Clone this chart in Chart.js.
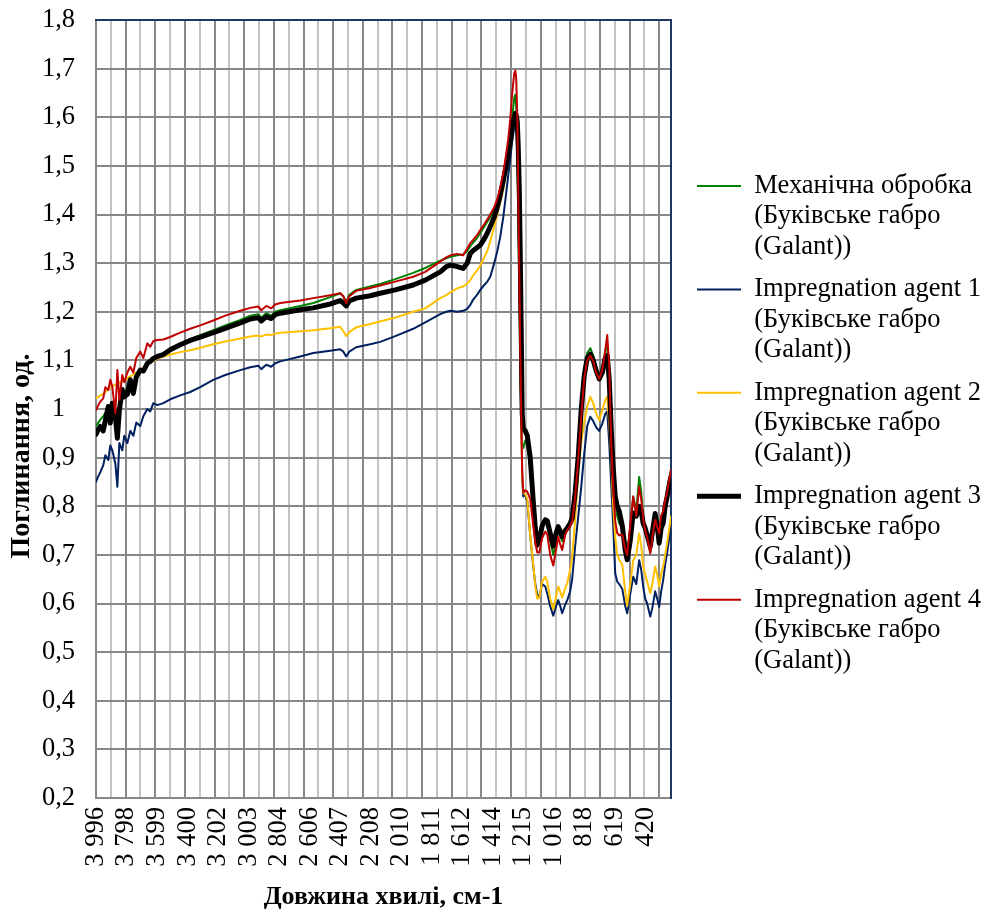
<!DOCTYPE html>
<html>
<head>
<meta charset="utf-8">
<script src="https://cdn.jsdelivr.net/npm/chart.js@4.4.1/dist/chart.umd.min.js"></script>
<style>
  html, body { margin: 0; padding: 0; background: #ffffff; }
  #wrap { width: 984px; height: 912px; }
</style>
</head>
<body>
<div id="wrap"><canvas id="chart" width="984" height="912"></canvas></div>
<script>
// ---- data ----
const wavenumbers = [3996,3981,3968,3949,3935,3916,3903,3890,3870,3857,3844,3825,3812,3792,3773,3753,3734,3708,3688,3662,3643,3623,3597,3558,3513,3448,3383,3318,3233,3155,3057,2992,2940,2921,2888,2856,2830,2797,2667,2582,2472,2407,2387,2368,2348,2303,2212,2147,2049,1932,1854,1756,1717,1691,1646,1607,1581,1561,1542,1516,1496,1470,1450,1431,1405,1385,1366,1346,1327,1314,1301,1288,1275,1268,1262,1255,1249,1242,1236,1229,1223,1216,1203,1190,1171,1151,1138,1125,1112,1093,1073,1060,1041,1021,1002,989,976,963,943,930,911,898,878,858,839,819,800,780,761,741,722,702,683,670,657,644,631,618,605,592,572,553,540,520,501,481,462,449,436,423,410,390,377,358,345,332,319,306,293,280,266,255];

const mechanical = [0.965,0.972,0.978,0.985,0.992,1.000,0.985,1.010,1.000,0.960,1.015,1.040,1.030,1.045,1.058,1.045,1.068,1.078,1.080,1.094,1.098,1.104,1.108,1.113,1.125,1.135,1.144,1.152,1.162,1.172,1.183,1.192,1.195,1.188,1.197,1.192,1.200,1.203,1.212,1.218,1.230,1.238,1.232,1.220,1.235,1.245,1.252,1.257,1.267,1.280,1.290,1.305,1.310,1.313,1.316,1.318,1.325,1.335,1.342,1.352,1.362,1.375,1.385,1.395,1.410,1.425,1.445,1.470,1.505,1.530,1.560,1.600,1.640,1.646,1.620,1.540,1.400,1.250,1.100,0.960,0.925,0.920,0.935,0.925,0.880,0.790,0.745,0.720,0.730,0.760,0.770,0.760,0.730,0.700,0.725,0.750,0.740,0.728,0.745,0.752,0.760,0.772,0.820,0.900,0.990,1.080,1.115,1.125,1.110,1.085,1.065,1.080,1.120,1.128,1.070,0.940,0.850,0.810,0.780,0.765,0.755,0.720,0.700,0.750,0.820,0.790,0.860,0.830,0.780,0.750,0.735,0.705,0.730,0.770,0.755,0.740,0.770,0.790,0.812,0.830,0.855,0.875];

const agent1 = [0.850,0.862,0.870,0.884,0.905,0.895,0.925,0.915,0.888,0.840,0.930,0.915,0.945,0.930,0.955,0.945,0.972,0.965,0.985,1.000,0.995,1.012,1.008,1.012,1.020,1.028,1.035,1.045,1.060,1.070,1.080,1.086,1.089,1.082,1.091,1.087,1.094,1.098,1.108,1.115,1.120,1.123,1.118,1.108,1.118,1.127,1.133,1.138,1.150,1.165,1.178,1.195,1.200,1.202,1.200,1.202,1.206,1.214,1.225,1.235,1.245,1.255,1.262,1.272,1.300,1.325,1.354,1.395,1.445,1.480,1.515,1.550,1.580,1.590,1.585,1.550,1.450,1.300,1.150,0.980,0.860,0.820,0.823,0.810,0.740,0.676,0.640,0.618,0.615,0.640,0.635,0.620,0.595,0.575,0.595,0.607,0.595,0.580,0.598,0.607,0.625,0.650,0.720,0.780,0.840,0.910,0.965,0.984,0.975,0.962,0.955,0.970,0.990,0.995,0.930,0.845,0.760,0.662,0.645,0.640,0.630,0.595,0.580,0.620,0.655,0.640,0.689,0.670,0.635,0.610,0.600,0.573,0.590,0.625,0.610,0.593,0.625,0.648,0.680,0.705,0.735,0.758];

const agent2 = [1.022,1.025,1.028,1.031,1.035,1.040,1.044,1.047,1.050,1.052,1.054,1.057,1.060,1.063,1.067,1.071,1.075,1.080,1.085,1.090,1.094,1.099,1.104,1.108,1.112,1.117,1.121,1.126,1.133,1.139,1.145,1.149,1.151,1.149,1.153,1.152,1.155,1.157,1.160,1.162,1.166,1.169,1.160,1.150,1.158,1.168,1.175,1.180,1.188,1.200,1.207,1.228,1.234,1.240,1.248,1.252,1.258,1.265,1.275,1.285,1.295,1.312,1.325,1.345,1.375,1.400,1.425,1.452,1.490,1.515,1.535,1.565,1.590,1.600,1.595,1.560,1.460,1.310,1.150,0.980,0.860,0.827,0.825,0.815,0.740,0.680,0.635,0.610,0.612,0.645,0.655,0.645,0.610,0.588,0.615,0.635,0.625,0.612,0.632,0.642,0.670,0.695,0.775,0.870,0.930,0.975,1.005,1.025,1.012,0.990,0.977,0.998,1.018,1.025,0.970,0.900,0.800,0.737,0.700,0.690,0.680,0.625,0.595,0.640,0.689,0.700,0.744,0.720,0.676,0.660,0.645,0.621,0.640,0.676,0.660,0.635,0.660,0.676,0.700,0.725,0.755,0.779];

const agent3 = [0.948,0.958,0.964,0.955,0.977,1.005,0.971,1.012,0.985,0.940,0.998,1.040,1.025,1.030,1.060,1.032,1.066,1.080,1.078,1.094,1.098,1.104,1.108,1.112,1.122,1.132,1.141,1.148,1.157,1.166,1.177,1.185,1.188,1.181,1.190,1.186,1.194,1.197,1.204,1.208,1.216,1.223,1.218,1.212,1.222,1.228,1.233,1.238,1.245,1.255,1.265,1.282,1.293,1.296,1.293,1.289,1.300,1.320,1.326,1.332,1.337,1.350,1.362,1.375,1.395,1.415,1.440,1.470,1.500,1.525,1.550,1.580,1.600,1.608,1.605,1.590,1.540,1.450,1.320,1.150,0.990,0.960,0.955,0.945,0.900,0.810,0.755,0.720,0.730,0.760,0.772,0.770,0.745,0.718,0.745,0.758,0.748,0.737,0.750,0.755,0.765,0.775,0.830,0.905,1.000,1.070,1.105,1.113,1.100,1.078,1.062,1.075,1.105,1.110,1.060,0.960,0.880,0.820,0.800,0.790,0.760,0.710,0.690,0.730,0.786,0.780,0.800,0.790,0.765,0.755,0.740,0.717,0.745,0.785,0.760,0.724,0.755,0.765,0.800,0.820,0.845,0.861];

const agent4 = [0.998,1.008,1.015,1.022,1.045,1.039,1.060,1.046,0.991,1.080,1.019,1.070,1.055,1.075,1.087,1.075,1.105,1.118,1.105,1.135,1.128,1.140,1.142,1.143,1.148,1.157,1.165,1.172,1.182,1.192,1.202,1.208,1.211,1.203,1.212,1.207,1.215,1.218,1.223,1.228,1.234,1.238,1.232,1.218,1.232,1.243,1.249,1.254,1.262,1.272,1.282,1.303,1.312,1.316,1.319,1.316,1.330,1.341,1.348,1.358,1.368,1.380,1.390,1.400,1.415,1.432,1.455,1.485,1.525,1.555,1.595,1.650,1.690,1.696,1.680,1.600,1.450,1.280,1.130,0.980,0.870,0.828,0.833,0.830,0.815,0.760,0.725,0.705,0.705,0.735,0.748,0.742,0.700,0.678,0.712,0.737,0.722,0.710,0.742,0.751,0.760,0.768,0.820,0.900,0.985,1.065,1.100,1.110,1.098,1.075,1.062,1.080,1.120,1.152,1.090,0.930,0.840,0.770,0.745,0.740,0.742,0.712,0.700,0.760,0.820,0.780,0.840,0.815,0.775,0.750,0.737,0.703,0.735,0.772,0.758,0.744,0.780,0.790,0.813,0.830,0.855,0.875];

const seriesLabels = [
  ['Механічна обробка', '(Буківське габро', '(Galant))'],
  ['Impregnation agent 1', '(Буківське габро', '(Galant))'],
  ['Impregnation agent 2', '(Буківське габро', '(Galant))'],
  ['Impregnation agent 3', '(Буківське габро', '(Galant))'],
  ['Impregnation agent 4', '(Буківське габро', '(Galant))']
];

const xTickLabels = [3996,3798,3599,3400,3202,3003,2804,2606,2407,2208,2010,1811,1612,1414,1215,1016,818,619,420];
const yMin = 0.2, yMax = 1.8, yStep = 0.1;
const xMax = 3996, xMin = 255;
const pointSpacing = 1.9288;          // cm-1 between recorded points
const gridEvery = 50;                 // vertical grid line every 50 points

const xTitle = 'Довжина хвилі, см-1';
const yTitle = 'Поглинання, од.';

// ---- styles ----
const FONT = "'Liberation Serif', 'Times New Roman', serif";
const NAVY = '#203864';
const GRID_DARK = '#888888';
const GRID_LIGHT = '#c3c3c3';
const CLEAR = 'rgba(0,0,0,0)';

function fmtThousands(n) {
  return String(n).replace(/\B(?=(\d{3})+(?!\d))/g, ' ');
}
function fmtY(v) {
  return String(Number(v.toFixed(1))).replace('.', ',');
}

const seriesStyle = [
  { data: mechanical, color: '#008000', width: 2, order: 4 },
  { data: agent1,     color: '#002060', width: 2, order: 3 },
  { data: agent2,     color: '#FFC000', width: 2, order: 2 },
  { data: agent3,     color: '#000000', width: 5, order: 1 },
  { data: agent4,     color: '#C00000', width: 2, order: 0 }
];

const datasets = seriesStyle.map((s, i) => ({
  label: seriesLabels[i],
  data: s.data,
  borderColor: s.color,
  backgroundColor: s.color,
  borderWidth: s.width,
  order: s.order,
  pointRadius: 0,
  pointHoverRadius: 0,
  tension: 0,
  fill: false,
  borderJoinStyle: 'round',
  borderCapStyle: 'round'
}));

new Chart(document.getElementById('chart'), {
  type: 'line',
  data: { labels: wavenumbers, datasets },
  options: {
    responsive: false,
    devicePixelRatio: 1,
    animation: false,
    events: [],
    layout: { padding: 0 },
    plugins: {
      tooltip: { enabled: false },
      title: {
        display: true,
        position: 'left',
        text: yTitle,
        color: '#000',
        font: { family: FONT, size: 28, weight: 'bold', lineHeight: 1.2 },
        padding: { top: 5.2, bottom: 3.2 }
      },
      legend: {
        position: 'right',
        align: 'center',
        fullSize: false,
        maxWidth: 299,
        title: { display: true, text: '', padding: { top: 18.2, bottom: 0 }, font: { size: 12, lineHeight: 1.2 } },
        labels: {
          usePointStyle: true,
          pointStyle: 'line',
          pointStyleWidth: 44,
          padding: 12,
          color: '#000',
          font: { family: FONT, size: 26.5, lineHeight: 1.15 },
          sort: (a, b) => a.datasetIndex - b.datasetIndex
        }
      }
    },
    scales: {
      x: {
        type: 'linear',
        position: 'bottom',
        reverse: true,
        min: xMin,
        max: xMax,
        afterBuildTicks: (scale) => {
          const step = pointSpacing * gridEvery;
          const ticks = [];
          for (let k = 0; xMax - k * step >= xMin; k++) {
            ticks.push({ value: xMax - k * step, kind: k % 2 === 0 ? 'major' : 'minor' });
          }
          xTickLabels.forEach(w => {
            const t = ticks.find(t => Math.abs(t.value - w) < 0.5);
            if (t) t.text = w; else ticks.push({ value: w, kind: 'none', text: w });
          });
          ticks.sort((a, b) => b.value - a.value);
          scale.ticks = ticks;
        },
        afterFit: (scale) => { scale.height = 114; },
        grid: {
          drawTicks: false,
          lineWidth: 2,
          color: (ctx) => {
            const t = ctx.tick;
            if (!t) return GRID_DARK;
            return t.kind === 'major' ? GRID_DARK : (t.kind === 'minor' ? GRID_LIGHT : CLEAR);
          }
        },
        border: { display: true, color: GRID_DARK, width: 2 },
        ticks: {
          autoSkip: false,
          minRotation: 90,
          maxRotation: 90,
          padding: 9,
          color: '#000',
          font: { family: FONT, size: 26.5 },
          callback: (value, index, ticks) => ticks[index].text !== undefined ? fmtThousands(ticks[index].text) : ''
        },
        title: {
          display: true,
          text: xTitle,
          color: '#000',
          font: { family: FONT, size: 26, weight: 'bold', lineHeight: 1.15 },
          padding: { top: 0, bottom: 0 }
        }
      },
      y: {
        type: 'linear',
        position: 'left',
        min: yMin,
        max: yMax,
        afterFit: (scale) => { scale.width = 54; scale.paddingTop = 0; scale.paddingBottom = 0; },
        grid: {
          drawTicks: false,
          lineWidth: 2,
          color: (ctx) => (ctx.tick && Math.abs(ctx.tick.value - yMax) < 1e-6) ? CLEAR : GRID_DARK
        },
        border: { display: true, color: GRID_DARK, width: 2 },
        ticks: {
          stepSize: yStep,
          padding: 21,
          crossAlign: 'center',
          color: '#000',
          font: { family: FONT, size: 26.5 },
          callback: (v) => fmtY(v)
        }
      },
      x2: {
        type: 'linear',
        position: 'top',
        afterFit: (scale) => { scale.height = 20; },
        grid: { display: false, drawTicks: false },
        ticks: { display: false },
        border: { display: true, color: NAVY, width: 2 }
      },
      y2: {
        type: 'linear',
        position: 'right',
        afterFit: (scale) => { scale.width = 14; scale.paddingTop = 0; scale.paddingBottom = 0; },
        grid: { display: false, drawTicks: false },
        ticks: { display: false },
        border: { display: true, color: NAVY, width: 2 }
      }
    }
  }
});
</script>
</body>
</html>
